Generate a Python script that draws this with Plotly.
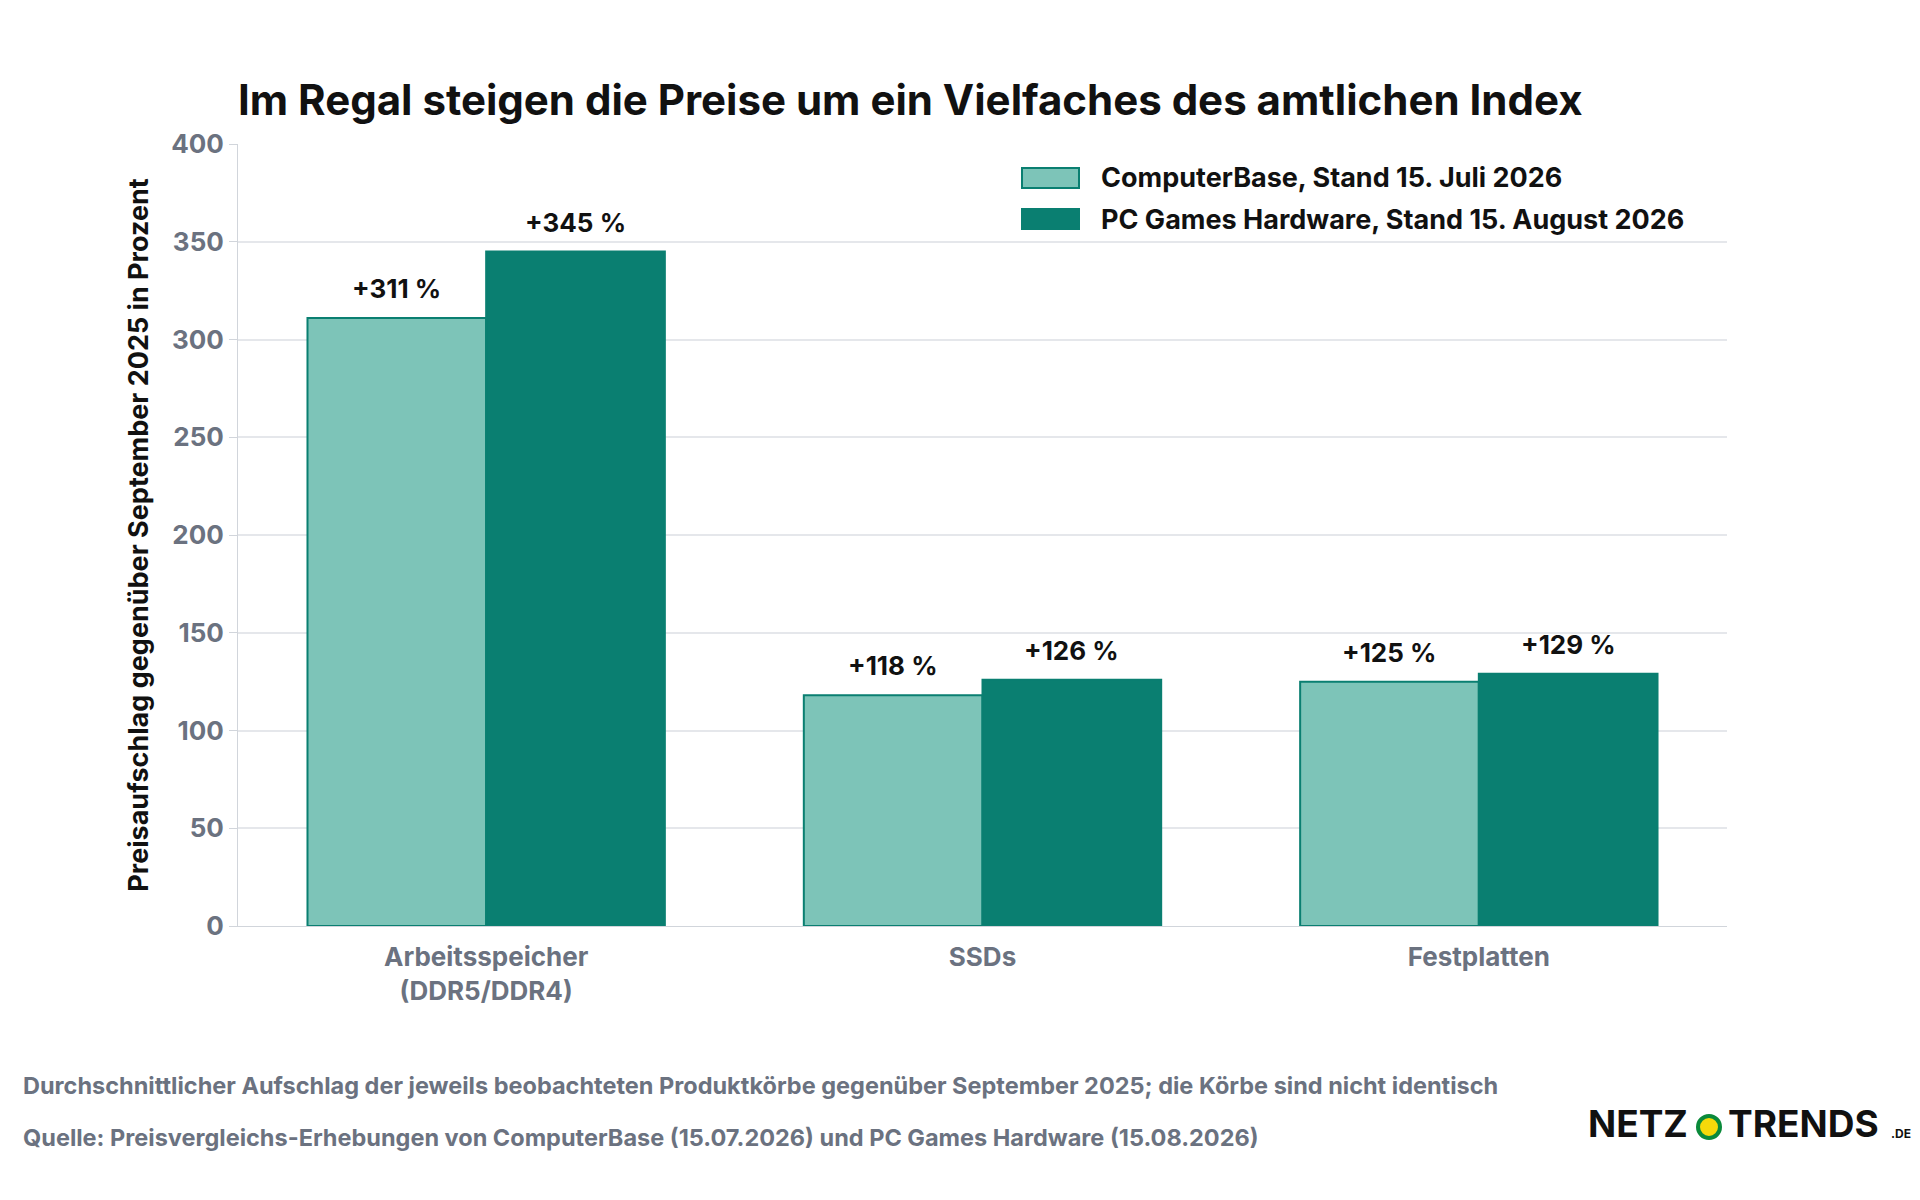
import plotly.graph_objects as go

categories = ["Arbeitsspeicher<br>(DDR5/DDR4)", "SSDs", "Festplatten"]
computerbase = [311, 118, 125]
pcgh = [345, 126, 129]
name_cb = "ComputerBase, Stand 15. Juli 2026"
name_pcgh = "PC Games Hardware, Stand 15. August 2026"

LIGHT = "#7dc4b8"
DARK = "#0a7f71"
GREY = "#6b7280"
FONT = "Inter"

W, H = 1920, 1200
L, R, T, B = 230, 201, 136, 282
PW, PH = W - L - R, H - T - B
BAR_HALF = PW / 3 * 0.72 / 4


def px(x):
    return (x - L) / PW


def py(y):
    return 1 - (y - T) / PH


fig = go.Figure()
fig.add_trace(go.Bar(
    x=categories, y=computerbase, name=name_cb,
    marker=dict(color=LIGHT, line=dict(color=DARK, width=2)),
))
fig.add_trace(go.Bar(
    x=categories, y=pcgh, name=name_pcgh,
    marker=dict(color=DARK, line=dict(color=DARK, width=2)),
))

# value labels above bars
for vals, shift in [(computerbase, -BAR_HALF), (pcgh, BAR_HALF)]:
    for c, v in zip(categories, vals):
        fig.add_annotation(x=c, y=v, text=f"<b>+{v} %</b>", showarrow=False,
                           xanchor="center", yanchor="bottom", xshift=shift, yshift=12,
                           font=dict(size=26, color="#111111", family=FONT))

fig.update_layout(
    width=W, height=H,
    paper_bgcolor="white", plot_bgcolor="white",
    font=dict(family=FONT, color=GREY),
    margin=dict(l=L, r=R, t=T, b=B),
    barmode="group", bargap=0.28, bargroupgap=0,
    title=dict(text="<b>Im Regal steigen die Preise um ein Vielfaches des amtlichen Index</b>",
               x=230 / W, xanchor="left", y=1 - 92 / H, yanchor="middle",
               font=dict(size=42, color="#111111", family=FONT)),
    showlegend=False,
)
fig.update_xaxes(showline=True, linecolor="#d1d5db", linewidth=1, ticks="",
                 tickfont=dict(size=26, color=GREY, family=FONT), ticklabelstandoff=8,
                 ticktext=[f"<b>{c}</b>" for c in categories], tickvals=categories)
fig.update_yaxes(range=[0, 400], dtick=50, gridcolor="#e5e7eb", gridwidth=1.5,
                 showline=True, linecolor="#d1d5db", ticks="outside", ticklen=8,
                 tickcolor="#d1d5db", zeroline=False,
                 tickfont=dict(size=26, color=GREY, family=FONT),
                 tickprefix="<b>", ticksuffix="</b>",
                 title=dict(text="<b>Preisaufschlag gegenüber September 2025 in Prozent</b>",
                            font=dict(size=27, color="#111111", family=FONT), standoff=14))

# custom legend
for i, (name, col) in enumerate([(name_cb, LIGHT), (name_pcgh, DARK)]):
    yc = 170 + i * 41
    fig.add_shape(type="rect", xref="paper", yref="paper",
                  x0=px(1014), x1=px(1071), y0=py(yc - 10), y1=py(yc + 10),
                  fillcolor=col, line=dict(color=DARK, width=2))
    fig.add_annotation(text=f"<b>{name}</b>", xref="paper", yref="paper",
                       x=px(1091), y=py(yc), xanchor="left", yanchor="middle",
                       showarrow=False, font=dict(size=27, color="#111111", family=FONT))

fig.add_annotation(text="<b>Durchschnittlicher Aufschlag der jeweils beobachteten Produktkörbe gegenüber September 2025; die Körbe sind nicht identisch</b>",
                   xref="paper", yref="paper", x=px(13), y=py(1077),
                   xanchor="left", yanchor="middle", showarrow=False,
                   font=dict(size=23.5, color=GREY, family=FONT))
fig.add_annotation(text="<b>Quelle: Preisvergleichs-Erhebungen von ComputerBase (15.07.2026) und PC Games Hardware (15.08.2026)</b>",
                   xref="paper", yref="paper", x=px(13), y=py(1129),
                   xanchor="left", yanchor="middle", showarrow=False,
                   font=dict(size=23.5, color=GREY, family=FONT))
# logo
fig.add_annotation(text="<b>NETZ</b>", xref="paper", yref="paper", x=px(1682), y=py(1115),
                   xanchor="right", yanchor="middle", showarrow=False,
                   font=dict(size=37, color="#111111", family=FONT))
fig.add_shape(type="circle", xref="paper", yref="paper",
              x0=px(1690), x1=px(1712), y0=py(1108), y1=py(1130),
              fillcolor="#f5d90a", line=dict(color="#0a8a3a", width=4))
fig.add_annotation(text="<b>TRENDS</b>", xref="paper", yref="paper", x=px(1718), y=py(1115),
                   xanchor="left", yanchor="middle", showarrow=False,
                   font=dict(size=37, color="#111111", family=FONT))
fig.add_annotation(text="<b>.DE</b>", xref="paper", yref="paper", x=px(1905), y=py(1125),
                   xanchor="right", yanchor="middle", showarrow=False,
                   font=dict(size=12, color="#111111", family=FONT))

fig.write_html("out.html")
